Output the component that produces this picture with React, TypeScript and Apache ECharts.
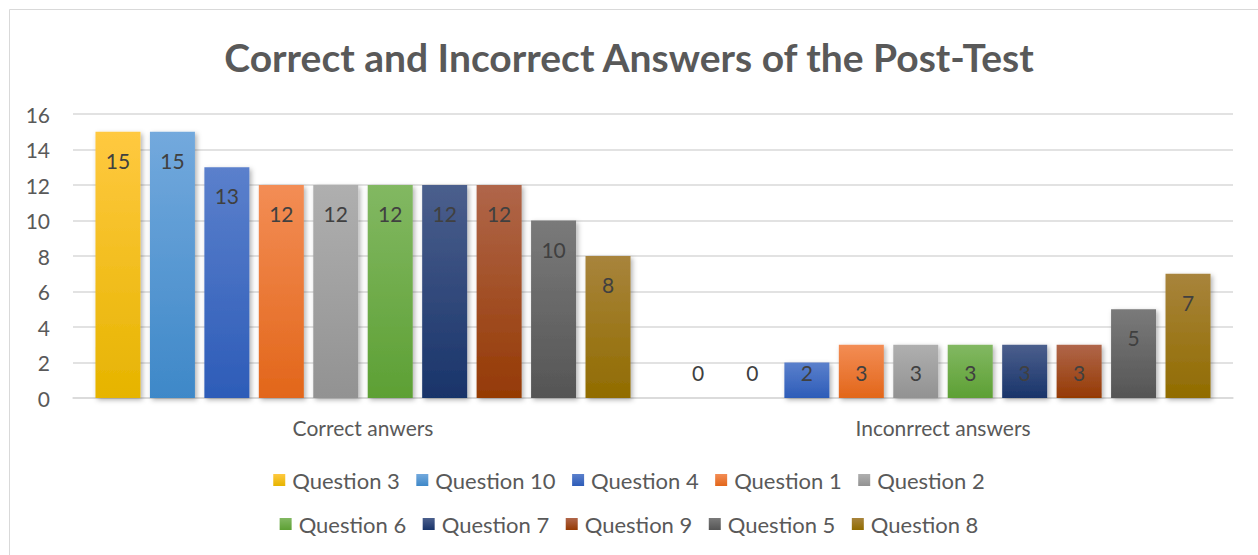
import React, { useEffect, useRef } from "react";
import * as echarts from "echarts";

const categories = ["Correct anwers", "Inconrrect answers"];
const seriesNames = [
  "Question 3", "Question 10", "Question 4", "Question 1", "Question 2",
  "Question 6", "Question 7", "Question 9", "Question 5", "Question 8",
];
const correct = [15, 15, 13, 12, 12, 12, 12, 12, 10, 8];
const incorrect = [0, 0, 2, 3, 3, 3, 3, 3, 5, 7];
const topColors = ["#FFC940", "#73A9DD", "#5B80CC", "#F38D55", "#AFAFAF", "#82B862", "#4B5F8D", "#B0664A", "#7A7A7A", "#A8843C"];
const bottomColors = ["#E6B400", "#3E88C8", "#2D5CB8", "#E2661A", "#929292", "#5DA034", "#19346A", "#953A04", "#555555", "#916C00"];
const legendRow1 = seriesNames.slice(0, 5);
const legendRow2 = seriesNames.slice(5);
const yTicks = { min: 0, max: 16, interval: 2 };

const W = 1258;
const H = 555;
const GRID = { left: 73, right: 25, top: 114, bottom: 157 };
const FONT = "Lato, 'Open Sans', sans-serif";

export default function App() {
  const ref = useRef<HTMLDivElement>(null);
  useEffect(() => {
    if (!ref.current) return;
    const chart = echarts.init(ref.current, null, { renderer: "svg" });
    const plotH = H - GRID.top - GRID.bottom;
    const pxPerUnit = plotH / yTicks.max;
    const series = seriesNames.map((name, i) => ({
      name,
      type: "bar",
      barWidth: 45,
      barGap: "21%",
      data: [correct[i], incorrect[i]].map((v) => ({
        value: v,
        label: { distance: Math.min(18, v * pxPerUnit - 36) },
      })),
      itemStyle: {
        color: new echarts.graphic.LinearGradient(0, 0, 0, 1, [
          { offset: 0, color: topColors[i] },
          { offset: 1, color: bottomColors[i] },
        ]),
        shadowColor: "rgba(0,0,0,0.3)",
        shadowBlur: 5,
        shadowOffsetX: 2,
        shadowOffsetY: 2,
      },
      label: {
        show: true,
        position: "insideTop",
        color: "#404040",
        fontSize: 21,
        fontFamily: FONT,
      },
    }));
    const legendCommon = {
      left: "center",
      itemWidth: 12,
      itemHeight: 12,
      itemGap: 16.5,
      icon: "rect",
      textStyle: { color: "#595959", fontSize: 22, fontFamily: FONT, padding: [0, 0, 0, 2] },
    };
    chart.setOption({
      animation: false,
      backgroundColor: "#ffffff",
      title: {
        text: "Correct and Incorrect Answers of the Post-Test",
        left: "center",
        top: 32,
        textStyle: { color: "#595959", fontSize: 39, fontWeight: "bold", fontFamily: FONT },
      },
      graphic: [
        {
          type: "rect",
          shape: { x: 9.5, y: 9.5, width: 1270, height: 570 },
          style: { fill: "none", stroke: "#D9D9D9", lineWidth: 1 },
          silent: true,
        },
      ],
      legend: [
        { ...legendCommon, top: 464, data: legendRow1 },
        { ...legendCommon, top: 508, data: legendRow2 },
      ],
      grid: { ...GRID, containLabel: false },
      xAxis: {
        type: "category",
        data: categories,
        axisLine: { lineStyle: { color: "#D9D9D9", width: 1.5 } },
        axisTick: { show: false },
        axisLabel: { color: "#595959", fontSize: 21, fontFamily: FONT, margin: 19 },
      },
      yAxis: {
        type: "value",
        min: yTicks.min,
        max: yTicks.max,
        interval: yTicks.interval,
        axisLine: { show: false },
        axisTick: { show: false },
        splitLine: { lineStyle: { color: "#D9D9D9", width: 1.5 } },
        axisLabel: { color: "#595959", fontSize: 21, fontFamily: FONT, margin: 23 },
      },
      series,
    });
    return () => chart.dispose();
  }, []);
  return (
    <div
      ref={ref}
      style={{ position: "absolute", left: 0, top: 0, width: W, height: H }}
    />
  );
}
